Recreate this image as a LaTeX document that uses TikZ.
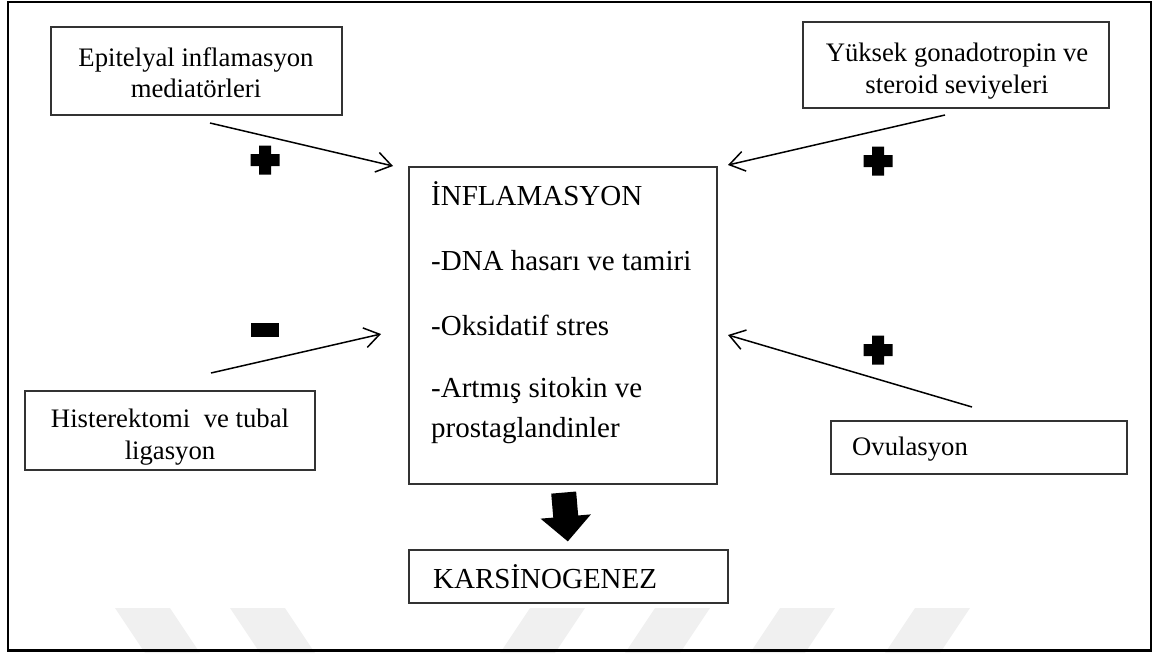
\documentclass[tikz,border=0pt]{standalone}
\usepackage{fontspec}
\setmainfont{Liberation Serif}
\usetikzlibrary{arrows.meta}
\begin{document}
\begin{tikzpicture}[x=1pt,y=-1pt,
  box/.style={draw=black!80, line width=1.2pt, inner sep=0pt},
  stxt/.style={inner sep=0pt, anchor=base, font=\fontsize{26.7}{32}\selectfont},
  ltxt/.style={inner sep=0pt, anchor=base west, font=\fontsize{29}{34}\selectfont},
  thin arrow/.style={line width=1.5pt, -{Straight Barb[length=15pt,width=20pt,line width=1.5pt]}},
  wmark/.style={fill=black!6, draw=none},
  plussign/.pic={\fill (-14.5,-6)--(-6,-6)--(-6,-14.5)--(6,-14.5)--(6,-6)--(14.5,-6)--(14.5,6)--(6,6)--(6,14.5)--(-6,14.5)--(-6,6)--(-14.5,6)--cycle;}
]
\useasboundingbox (0,0) rectangle (1161,653);
% faint watermark
\fill[wmark] (115,608)--(170,608)--(200,653)--(145,653)--cycle;
\fill[wmark] (230,608)--(285,608)--(315,653)--(260,653)--cycle;
\fill[wmark] (530,608)--(585,608)--(555,653)--(500,653)--cycle;
\fill[wmark] (655,608)--(710,608)--(680,653)--(625,653)--cycle;
\fill[wmark] (780,608)--(835,608)--(805,653)--(750,653)--cycle;
\fill[wmark] (915,608)--(970,608)--(940,653)--(885,653)--cycle;
% outer frame
\draw[line width=2pt] (8,1.5) rectangle (1151,650);
\draw[line width=3.5pt] (7,650.5) -- (1152,650.5);
% boxes
\node[box, minimum width=291pt, minimum height=88pt] (epi) at (196.5,71) {};
\node[box, minimum width=306pt, minimum height=86pt] (yuk) at (956,65) {};
\node[box, minimum width=308pt, minimum height=317pt] (inf) at (563,325.5) {};
\node[box, minimum width=290pt, minimum height=79pt] (his) at (170,430.5) {};
\node[box, minimum width=296pt, minimum height=53pt] (ovu) at (979,447.5) {};
\node[box, minimum width=319pt, minimum height=53pt] (kar) at (568.5,576.5) {};
% texts
\node[stxt] (epi1) at (196,66) {Epitelyal inflamasyon};
\node[stxt] (epi2) at (196,97) {mediatörleri};
\node[stxt] (yuk1) at (957,61) {Yüksek gonadotropin ve};
\node[stxt] (yuk2) at (957,93) {steroid seviyeleri};
\node[stxt] (his1) at (170,427) {Histerektomi~ ve tubal};
\node[stxt] (his2) at (170,459) {ligasyon};
\node[stxt, anchor=base west] (ovu1) at (852,455) {Ovulasyon};
\node[ltxt] (inf1) at (431,205) {İNFLAMASYON};
\node[ltxt] (inf2) at (431,270) {-DNA hasarı ve tamiri};
\node[ltxt] (inf3) at (431,335) {-Oksidatif stres};
\node[ltxt] (inf4) at (431,397) {-Artmış sitokin ve};
\node[ltxt] (inf5) at (431,437) {prostaglandinler};
\node[ltxt] (kar1) at (433,588) {KARSİNOGENEZ};
% connector end points
\coordinate (a1s) at (210,123);
\coordinate (a1e) at (393,166);
\coordinate (a2s) at (945,115);
\coordinate (a2e) at (728,165);
\coordinate (a3s) at (211,373);
\coordinate (a3e) at (381,334);
\coordinate (a4s) at (972,407);
\coordinate (a4e) at (728,335);
\draw[thin arrow] (a1s) -- (a1e);
\draw[thin arrow] (a2s) -- (a2e);
\draw[thin arrow] (a3s) -- (a3e);
\draw[thin arrow] (a4s) -- (a4e);
% thick arrow
\draw[line width=25pt, -{Triangle[length=25pt,width=49pt]}, shorten <=8pt, shorten >=8pt] (inf.south) -- (kar.north);
% signs
\pic at (265,160) {plussign};
\pic at (878,161) {plussign};
\pic at (878,350) {plussign};
\fill (251,323) rectangle (279,337);
\end{tikzpicture}
\end{document}
